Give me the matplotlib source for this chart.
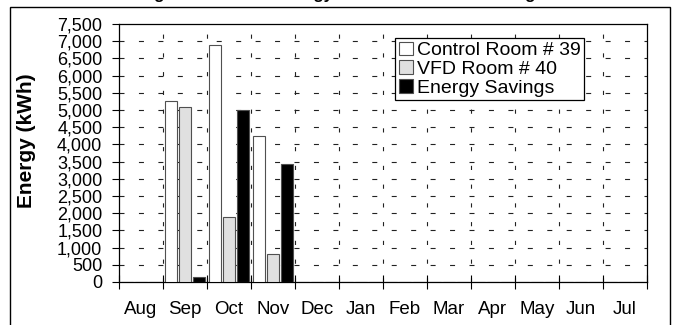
import matplotlib
matplotlib.use("Agg")
import matplotlib.pyplot as plt
from matplotlib.patches import Rectangle
import numpy as np

months = ["Aug", "Sep", "Oct", "Nov", "Dec", "Jan", "Feb", "Mar", "Apr", "May", "Jun", "Jul"]
control_room = [0, 5250, 6900, 4230, 0, 0, 0, 0, 0, 0, 0, 0]
vfd_room = [0, 5100, 1880, 820, 0, 0, 0, 0, 0, 0, 0, 0]
savings = [0, 150, 5000, 3430, 0, 0, 0, 0, 0, 0, 0, 0]
yticks = list(range(0, 7501, 500))

plt.rcParams["font.family"] = ["Liberation Sans", "DejaVu Sans"]
plt.rcParams["lines.scale_dashes"] = False

fig = plt.figure(figsize=(6.78, 3.25), dpi=100)
ax = fig.add_axes([119 / 678, 1 - 282 / 325, (647 - 119) / 678, (282 - 24) / 325])

# outer frame, bottom edge runs off the picture
fig.patches.append(Rectangle((10 / 678, -0.05), 660 / 678, 1.05 - 7 / 325,
                             transform=fig.transFigure, fill=False,
                             edgecolor="black", linewidth=1.0))

# title sits above the picture, only the descenders show
fig.text(103 / 678, 1 + 1 / 325, "Cooling Chiller Room Energy Use and Total Net Savings",
         ha="left", va="baseline", fontsize=12, fontweight="bold")

x = np.arange(len(months))
w = 0.27
off = 0.31
ax.bar(x - off, control_room, w, color="white", edgecolor="#505050", linewidth=0.8,
       label="Control Room # 39", zorder=3)
ax.bar(x, vfd_room, w, color="#e0e0e0", edgecolor="#505050", linewidth=0.8,
       label="VFD Room # 40", zorder=3)
ax.bar(x + off, savings, w, color="black", edgecolor="#505050", linewidth=0.8,
       label="Energy Savings", zorder=3)

ax.set_xlim(-0.5, len(months) - 0.5)
ax.set_ylim(0, 7500)
ax.set_yticks(yticks)
ax.set_yticklabels([f"{v:,}" for v in yticks])
ax.set_xticks(np.arange(-0.5, len(months), 1.0))
ax.set_xticklabels([])
ax.set_xticks(x, minor=True)
ax.set_xticklabels(months, minor=True)
ax.tick_params(axis="x", which="major", direction="inout", length=10, width=0.8)
ax.tick_params(axis="x", which="minor", length=0, pad=14, labelsize=13.5)
ax.tick_params(axis="y", direction="out", length=5, width=0.8, pad=7, labelsize=13)

for y in yticks[1:-1]:
    ax.axhline(y, color="#222222", linewidth=0.8, dashes=(3.6, 10.4), zorder=1)
for b in np.arange(0.5, len(months) - 0.5, 1.0):
    ax.axvline(b, color="#222222", linewidth=0.8, dashes=(3, 10.5), zorder=1)

for s in ax.spines.values():
    s.set_linewidth(0.9)

fig.text(27 / 678, 1 - 141 / 325, "Energy (kWh)", rotation=90, ha="center",
         va="center", fontsize=15, fontweight="bold")

leg = ax.legend(loc="upper left", bbox_to_anchor=(0.523, 0.946), fontsize=14,
                frameon=True, fancybox=False, framealpha=1, edgecolor="black",
                handlelength=0.7, handleheight=0.7, handletextpad=0.2,
                borderpad=0.2, labelspacing=0.05, borderaxespad=0)
leg.get_frame().set_linewidth(0.9)

fig.savefig("out.png", dpi=100)
